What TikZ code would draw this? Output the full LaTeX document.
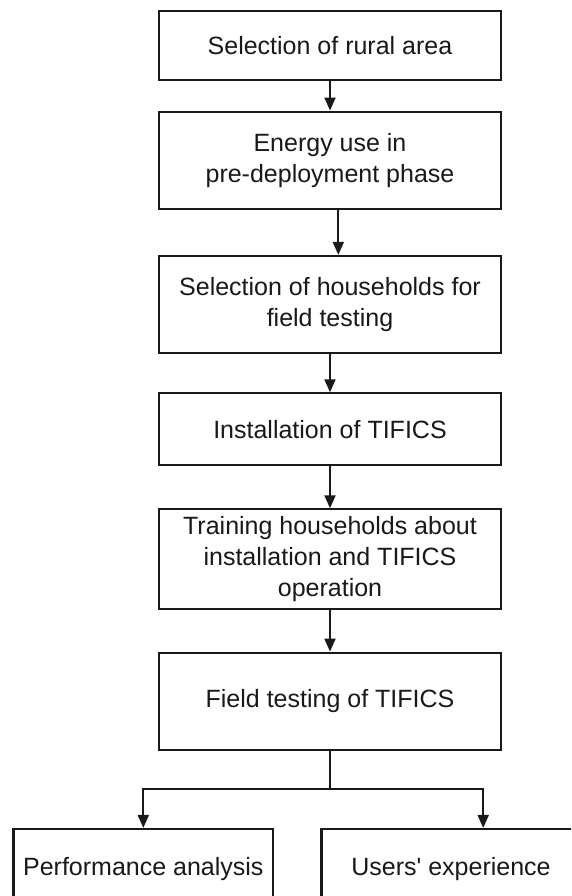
\documentclass[tikz,border=0pt]{standalone}
\usepackage{fontspec}
\setmainfont{Liberation Sans}
\usetikzlibrary{arrows.meta}
\begin{document}
\begin{tikzpicture}[x=1pt,y=-1pt,
  box/.style={draw=black!90, line width=2.2pt, align=center, text=black!90,
    font=\fontsize{25}{31}\selectfont, inner sep=0pt, minimum width=341.4pt},
  arr/.style={draw=black!90, line width=2pt, -{Triangle[length=13pt,width=11pt]}}]
\useasboundingbox (0,0) rectangle (571,896);
\clip (0,0) rectangle (571,896);
\fill[white] (0,0) rectangle (571,896);
\node[box, minimum height=69pt] (b1) at (330,45.5) {Selection of rural area};
\node[box, minimum height=97.3pt] (b2) at (330,160.3) {Energy use in\\pre-deployment phase};
\node[box, minimum height=96.7pt] (b3) at (330,304.3) {Selection of households for\\field testing};
\node[box, minimum height=71.7pt] (b4) at (330,429.2) {Installation of TIFICS};
\node[box, minimum height=99.7pt] (b5) at (330,559.2) {Training households about\\installation and TIFICS\\operation};
\node[box, minimum height=97.3pt] (b6) at (330,701.3) {Field testing of TIFICS};
\node[box, minimum width=259.5pt, minimum height=80pt] (pa) at (143.3,869) {Performance analysis};
\node[box, minimum width=259pt, minimum height=80pt] (ue) at (451,869) {Users\textquotesingle\ experience};
\coordinate (j) at (330,789);
\draw[arr] (b1) -- (b2);
\draw[arr] ([xshift=8.3pt]b2.south) -- ([xshift=8.3pt]b3.north);
\draw[arr] (b3) -- (b4);
\draw[arr] (b4) -- (b5);
\draw[arr] (b5) -- (b6);
\draw[draw=black!90, line width=2pt] (b6.south) -- (j);
\draw[arr] (j) -| (pa.north);
\draw[arr] (j) -| ([xshift=32.2pt]ue.north);
\end{tikzpicture}
\end{document}
